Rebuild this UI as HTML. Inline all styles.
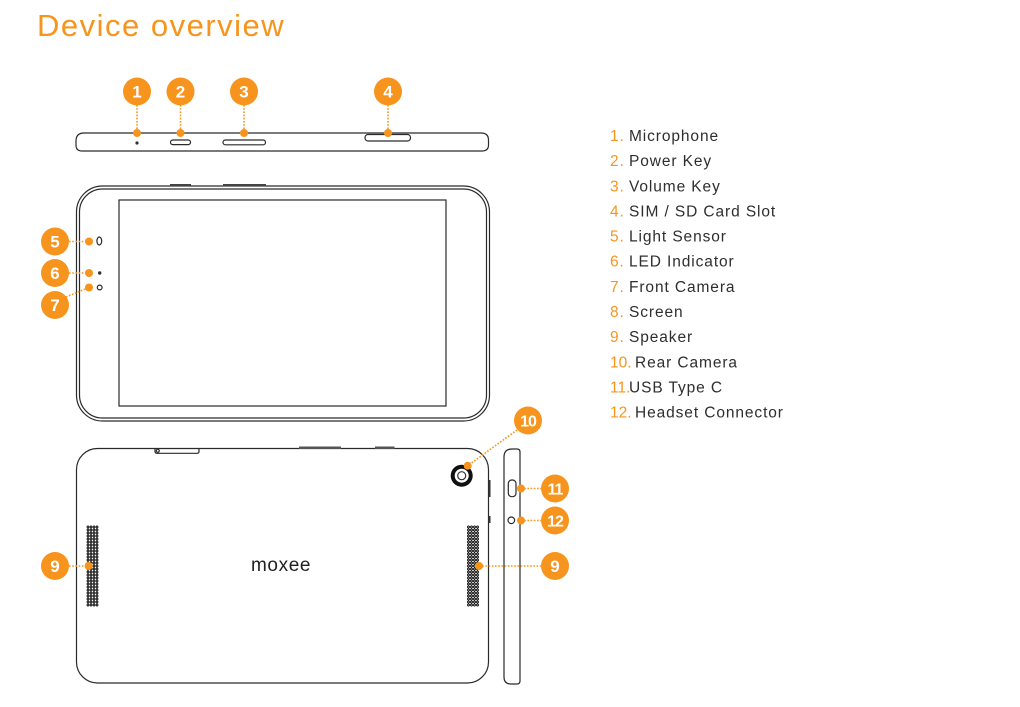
<!DOCTYPE html>
<html><head><meta charset="utf-8">
<style>
html,body{margin:0;padding:0;background:#fff;}
body{width:1020px;height:707px;position:relative;overflow:hidden;font-family:"Liberation Sans",sans-serif;}
svg{position:absolute;left:0;top:0;}
</style></head>
<body>
<svg width="1020" height="707" viewBox="0 0 1020 707" xmlns="http://www.w3.org/2000/svg">
<defs>
  <pattern id="dots" x="86.5" y="525.5" width="3" height="3" patternUnits="userSpaceOnUse">
    <circle cx="1.5" cy="1.5" r="1" fill="none" stroke="#000" stroke-width="0.9"/>
  </pattern>
  <pattern id="dots2" x="467" y="525.5" width="3" height="3" patternUnits="userSpaceOnUse">
    <circle cx="1.5" cy="1.5" r="1" fill="none" stroke="#000" stroke-width="0.9"/>
  </pattern>
</defs>
<!-- Title -->
<text x="37" y="36" font-family="Liberation Sans, sans-serif" font-size="31" fill="#F7941D" letter-spacing="1.5">Device overview</text>

<g fill="none" stroke="#2a2a2a" stroke-width="1.2">
  <!-- Top side view -->
  <path d="M84 133 L481 133 Q488.5 133 488.5 140 L488.5 145 Q488.5 151 482 151 L82 151 Q76 151 76 145 L76 141 Q76 133 84 133 Z"/>
  <rect x="170.5" y="140" width="20" height="4.6" rx="2.3"/>
  <rect x="223" y="140" width="42.5" height="4.8" rx="2.4"/>
  <rect x="365" y="134.5" width="45.5" height="6.5" rx="3"/>
  <!-- Front view double outline -->
  <rect x="76.5" y="186" width="413" height="235" rx="26"/>
  <rect x="79.5" y="189" width="407" height="229" rx="23"/>
  <rect x="119" y="200" width="327" height="206"/>
  <ellipse cx="99.3" cy="241" rx="2.4" ry="4"/>
  <circle cx="99.7" cy="287.5" r="2.4"/>
  <!-- Back view -->
  <rect x="76.5" y="448.5" width="412" height="234.5" rx="21"/>
  <path d="M155 448.5 L155 451.5 Q155 453.3 157 453.3 L197 453.3 Q199 453.3 199 451.5 L199 448.5"/>
  <circle cx="157.8" cy="450.8" r="1.5"/>
  <!-- Side view -->
  <path d="M520 452 L520 681 Q520 684 517 684 L511 684 Q504 684 504 677 L504 457 Q504 449 512 449 L517 449 Q520 449 520 452 Z"/>
  <rect x="508.3" y="480" width="7.7" height="16.7" rx="3.5"/>
  <circle cx="511.3" cy="520.3" r="3.3"/>
</g>
<!-- Front top buttons -->
<rect x="170" y="184" width="21" height="2.5" fill="#444"/>
<rect x="223" y="184" width="43" height="2.5" fill="#444"/>
<circle cx="137" cy="143" r="1.6" fill="#333"/>
<circle cx="99.7" cy="273" r="1.7" fill="#333"/>
<!-- Back top bumps -->
<rect x="299" y="446.5" width="42" height="2.5" fill="#555"/>
<rect x="375" y="446.5" width="19.5" height="2.5" fill="#555"/>
<!-- Back right-side bumps -->
<rect x="488.5" y="480" width="2" height="17" fill="#333"/>
<rect x="488.5" y="516" width="2" height="7" fill="#333"/>
<!-- Rear camera -->
<circle cx="461.7" cy="475.7" r="11" fill="#111"/>
<circle cx="461.7" cy="475.7" r="7" fill="#fff"/>
<circle cx="461.7" cy="475.7" r="4" fill="none" stroke="#333" stroke-width="1.2"/>
<!-- moxee -->
<text x="251" y="571" font-family="Liberation Sans, sans-serif" font-size="19" fill="#222" letter-spacing="0.6">moxee</text>

<!-- Speaker grids -->
<rect x="86.5" y="525.5" width="12" height="81" fill="url(#dots)"/>
<rect x="467" y="525.5" width="12" height="81" fill="url(#dots2)"/>

<!-- Callout connectors -->
<g stroke="#F7941D" stroke-width="1.6" stroke-dasharray="1.6 1.6" fill="none">
  <line x1="137" y1="105" x2="137" y2="133"/>
  <line x1="180.5" y1="105" x2="180.5" y2="133"/>
  <line x1="244" y1="105" x2="244" y2="133"/>
  <line x1="388" y1="105" x2="388" y2="133"/>
  <line x1="69" y1="241.5" x2="89" y2="241.5"/>
  <line x1="69" y1="273" x2="89" y2="273"/>
  <line x1="66" y1="297" x2="89" y2="287.5"/>
  <line x1="69" y1="566" x2="88.7" y2="566"/>
  <line x1="517" y1="430" x2="467.7" y2="465.7"/>
  <line x1="521" y1="488.5" x2="541" y2="488.5"/>
  <line x1="521" y1="520.5" x2="541" y2="520.5"/>
  <line x1="479" y1="566" x2="541" y2="566"/>
</g>
<g fill="#F7941D">
  <circle cx="137" cy="133" r="4"/>
  <circle cx="180.5" cy="133" r="4"/>
  <circle cx="244" cy="133" r="4"/>
  <circle cx="388" cy="133" r="4"/>
  <circle cx="89" cy="241.5" r="4"/>
  <circle cx="89" cy="273" r="4"/>
  <circle cx="89" cy="287.5" r="4"/>
  <circle cx="88.7" cy="566" r="4"/>
  <circle cx="467.7" cy="465.7" r="4"/>
  <circle cx="521" cy="488.5" r="4"/>
  <circle cx="521" cy="520.5" r="4"/>
  <circle cx="479" cy="566" r="4"/>
  <circle cx="137" cy="91.5" r="14"/>
  <circle cx="180.5" cy="91.5" r="14"/>
  <circle cx="244" cy="91.5" r="14"/>
  <circle cx="388" cy="91.5" r="14"/>
  <circle cx="55" cy="241.5" r="14"/>
  <circle cx="55" cy="273" r="14"/>
  <circle cx="55" cy="305" r="14"/>
  <circle cx="55" cy="566" r="14"/>
  <circle cx="528" cy="420.5" r="14"/>
  <circle cx="555" cy="488.5" r="14"/>
  <circle cx="555" cy="520.5" r="14"/>
  <circle cx="555" cy="566" r="14"/>
</g>
<g fill="#fff" font-family="Liberation Sans, sans-serif" font-weight="bold" font-size="17" text-anchor="middle">
  <text x="137" y="97.5">1</text>
  <text x="180.5" y="97.5">2</text>
  <text x="244" y="97.5">3</text>
  <text x="388" y="97.5">4</text>
  <text x="55" y="247.5">5</text>
  <text x="55" y="279">6</text>
  <text x="55" y="311">7</text>
  <text x="55" y="572">9</text>
  <text x="528" y="426.5" font-size="16" letter-spacing="-1">10</text>
  <text x="555" y="494.5" font-size="16" letter-spacing="-1">11</text>
  <text x="555" y="526.5" font-size="16" letter-spacing="-1">12</text>
  <text x="555" y="572">9</text>
</g>

<!-- Legend -->
<g font-family="Liberation Sans, sans-serif" font-size="15.5" letter-spacing="0.9">
  <g fill="#F7941D">
    <text x="610" y="141">1.</text>
    <text x="610" y="166.1">2.</text>
    <text x="610" y="191.3">3.</text>
    <text x="610" y="216.4">4.</text>
    <text x="610" y="241.6">5.</text>
    <text x="610" y="266.7">6.</text>
    <text x="610" y="291.9">7.</text>
    <text x="610" y="317">8.</text>
    <text x="610" y="342.2">9.</text>
    <text x="610" y="367.3" letter-spacing="0">10.</text>
    <text x="610" y="392.5" letter-spacing="0">11.</text>
    <text x="610" y="417.6" letter-spacing="0">12.</text>
  </g>
  <g fill="#2e2e2e">
    <text x="629" y="141">Microphone</text>
    <text x="629" y="166.1">Power Key</text>
    <text x="629" y="191.3">Volume Key</text>
    <text x="629" y="216.4">SIM / SD Card Slot</text>
    <text x="629" y="241.6">Light Sensor</text>
    <text x="629" y="266.7">LED Indicator</text>
    <text x="629" y="291.9">Front Camera</text>
    <text x="629" y="317">Screen</text>
    <text x="629" y="342.2">Speaker</text>
    <text x="635" y="367.3">Rear Camera</text>
    <text x="629" y="392.5">USB Type C</text>
    <text x="635" y="417.6">Headset Connector</text>
  </g>
</g>
<circle cx="88.7" cy="566" r="4" fill="#F7941D"/>
<circle cx="479" cy="566" r="4" fill="#F7941D"/>
</svg>
</body></html>
